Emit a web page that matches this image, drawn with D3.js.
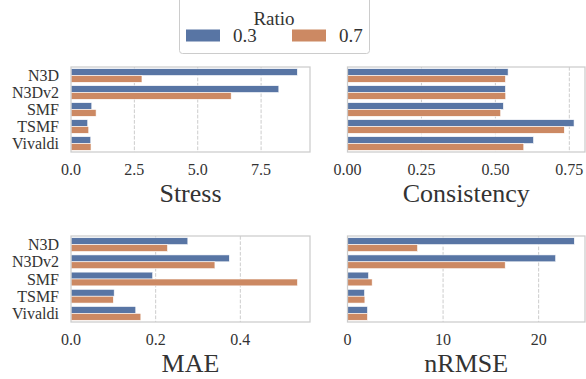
<!DOCTYPE html>
<html><head><meta charset="utf-8">
<script src="https://cdn.jsdelivr.net/npm/d3@7"></script>
<style>
html,body{margin:0;padding:0;background:#fff;}
svg{display:block;}
text{font-family:"Liberation Serif","Times New Roman",serif;fill:#333;}
</style></head>
<body>
<svg id="chart" width="586" height="379"></svg>
<script>
const categories = ["N3D","N3Dv2","SMF","TSMF","Vivaldi"];
const ratios = ["0.3","0.7"];
const stress03 = [8.93, 8.20, 0.82, 0.66, 0.78];
const stress07 = [2.80, 6.32, 0.99, 0.70, 0.79];
const consistency03 = [0.543, 0.534, 0.527, 0.766, 0.629];
const consistency07 = [0.534, 0.535, 0.518, 0.733, 0.596];
const mae03 = [0.276, 0.374, 0.193, 0.102, 0.153];
const mae07 = [0.228, 0.340, 0.535, 0.100, 0.165];
const nrmse03 = [23.73, 21.78, 2.20, 1.78, 2.09];
const nrmse07 = [7.33, 16.50, 2.58, 1.82, 2.09];
const stressTicks = [0, 2.5, 5.0, 7.5];
const consistencyTicks = [0, 0.25, 0.5, 0.75];
const maeTicks = [0, 0.2, 0.4];
const nrmseTicks = [0, 10, 20];

const colors = ["#5875a4", "#cc8963"];
const svg = d3.select("#chart");

const panels = [
  {title:"Stress", s:[stress03,stress07], ticks:stressTicks, fmt:d3.format(".1f"), max:9.43, x0:71, x1:310, y0:67, y1:152, ylab:true},
  {title:"Consistency", s:[consistency03,consistency07], ticks:consistencyTicks, fmt:d3.format(".2f"), max:0.803, x0:347.5, x1:585, y0:67, y1:152, ylab:false},
  {title:"MAE", s:[mae03,mae07], ticks:maeTicks, fmt:d3.format(".1f"), max:0.5646, x0:71, x1:310, y0:236, y1:322, ylab:true},
  {title:"nRMSE", s:[nrmse03,nrmse07], ticks:nrmseTicks, fmt:d3.format("d"), max:24.85, x0:347.5, x1:585, y0:236, y1:322, ylab:false}
];

panels.forEach(p => {
  const g = svg.append("g");
  const x = d3.scaleLinear().domain([0, p.max]).range([p.x0, p.x1]);
  const y = d3.scaleBand().domain(categories).range([p.y0, p.y1]).paddingInner(0.2).paddingOuter(0.1);
  const yh = d3.scaleBand().domain(ratios).range([0, y.bandwidth()]);
  // grid
  g.selectAll("line.grid").data(p.ticks.filter(t=>t>0)).join("line")
    .attr("x1", d=>x(d)).attr("x2", d=>x(d)).attr("y1", p.y0).attr("y2", p.y1)
    .attr("stroke", "#cccccc").attr("stroke-width", 1).attr("stroke-dasharray", "3.7,1.6");
  // bars
  ratios.forEach((r, ri) => {
    g.selectAll("rect.b"+ri).data(categories).join("rect")
      .attr("x", x(0))
      .attr("y", c => y(c) + yh(r))
      .attr("width", (c,i) => x(p.s[ri][i]) - x(0))
      .attr("height", yh.bandwidth())
      .attr("fill", colors[ri])
      .attr("stroke", "#fff").attr("stroke-width", 0.6);
  });
  // frame
  g.append("rect").attr("x", p.x0).attr("y", p.y0).attr("width", p.x1-p.x0).attr("height", p.y1-p.y0)
    .attr("fill","none").attr("stroke","#cccccc").attr("stroke-width",1.25);
  // x tick labels
  g.selectAll("text.xt").data(p.ticks).join("text")
    .attr("x", d=>x(d)).attr("y", p.y1+23).attr("text-anchor","middle")
    .attr("font-size", 16).text(d=>p.fmt(d));
  // title
  g.append("text").attr("x", (p.x0+p.x1)/2).attr("y", p.y1+50).attr("text-anchor","middle")
    .attr("font-size", 26).text(p.title);
  if (p.ylab) {
    g.selectAll("text.yt").data(categories).join("text")
      .attr("x", p.x0-12).attr("y", c=>y(c)+y.bandwidth()/2).attr("dy","0.35em")
      .attr("text-anchor","end").attr("font-size", 16).text(c=>c);
  }
});

// legend
const lg = svg.append("g");
lg.append("rect").attr("x",179.5).attr("y",-5).attr("width",190).attr("height",58.5).attr("rx",3)
  .attr("fill","#fff").attr("fill-opacity",0.8).attr("stroke","#cccccc").attr("stroke-width",1);
lg.append("text").attr("x",274).attr("y",25).attr("text-anchor","middle").attr("font-size",19).text("Ratio");
const legX = [186, 292];
ratios.forEach((r,i)=>{
  lg.append("rect").attr("x",legX[i]).attr("y",29.5).attr("width",34).attr("height",12).attr("fill",colors[i]);
  lg.append("text").attr("x",legX[i]+47).attr("y",42).attr("font-size",19).text(r);
});
</script>
</body></html>
